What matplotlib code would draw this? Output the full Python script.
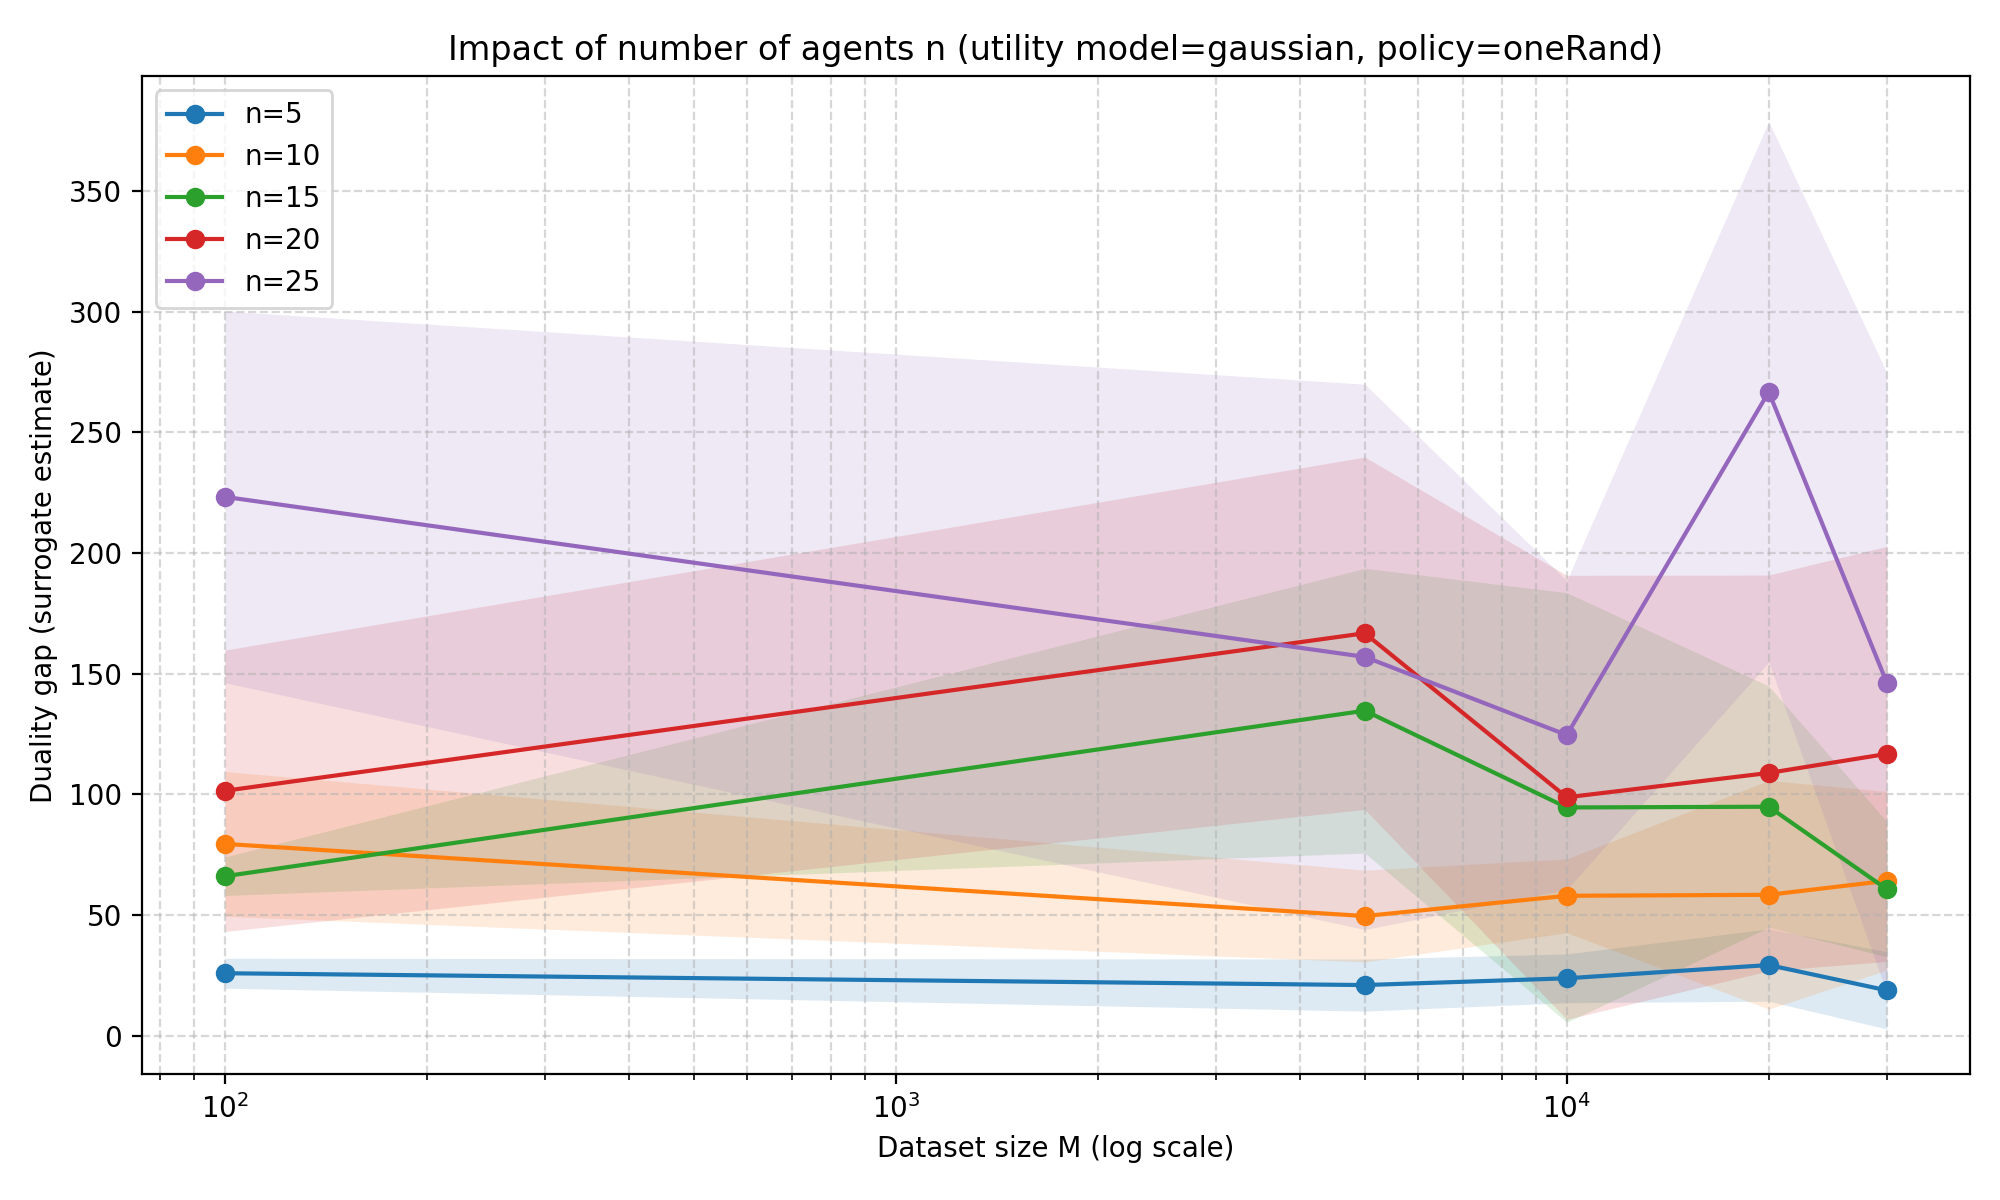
import matplotlib
matplotlib.use("Agg")
import matplotlib.pyplot as plt
import numpy as np

# dataset sizes M
M = [100, 5000, 10000, 20000, 30000]

# mean duality gap per n
mean_n5 = [25.9, 21.0, 23.8, 29.3, 18.8]
mean_n10 = [79.5, 49.6, 58.0, 58.4, 64.2]
mean_n15 = [66.1, 134.7, 94.6, 94.9, 60.7]
mean_n20 = [101.5, 166.8, 98.8, 108.9, 116.8]
mean_n25 = [223.3, 157.0, 124.6, 266.8, 146.2]

# spread (std) per n
std_n5 = [6.2, 10.8, 10.1, 15.0, 16.0]
std_n10 = [30.0, 19.0, 15.3, 47.4, 37.0]
std_n15 = [8.0, 59.0, 89.0, 50.0, 28.0]
std_n20 = [58.3, 73.0, 92.0, 82.0, 86.0]
std_n25 = [77.0, 113.0, 64.0, 112.0, 128.5]

labels = ["n=5", "n=10", "n=15", "n=20", "n=25"]
means = [mean_n5, mean_n10, mean_n15, mean_n20, mean_n25]
stds = [std_n5, std_n10, std_n15, std_n20, std_n25]

fig, ax = plt.subplots(figsize=(10, 6), dpi=200)

for lab, mu, sd in zip(labels, means, stds):
    mu = np.array(mu)
    sd = np.array(sd)
    line, = ax.plot(M, mu, marker="o", label=lab)
    ax.fill_between(M, mu - sd, mu + sd, color=line.get_color(), alpha=0.15, linewidth=0)

ax.set_xscale("log")
ax.set_xlabel("Dataset size M (log scale)")
ax.set_ylabel("Duality gap (surrogate estimate)")
ax.set_title("Impact of number of agents n (utility model=gaussian, policy=oneRand)")
ax.grid(True, which="both", linestyle="--", alpha=0.5)
ax.legend(loc="upper left")

plt.tight_layout()
# reference has a touch more room under and over the axes
pos = ax.get_position()
ax.set_position([pos.x0, pos.y0 + 0.006, pos.width, pos.height - 0.009])
plt.savefig("out.png")
